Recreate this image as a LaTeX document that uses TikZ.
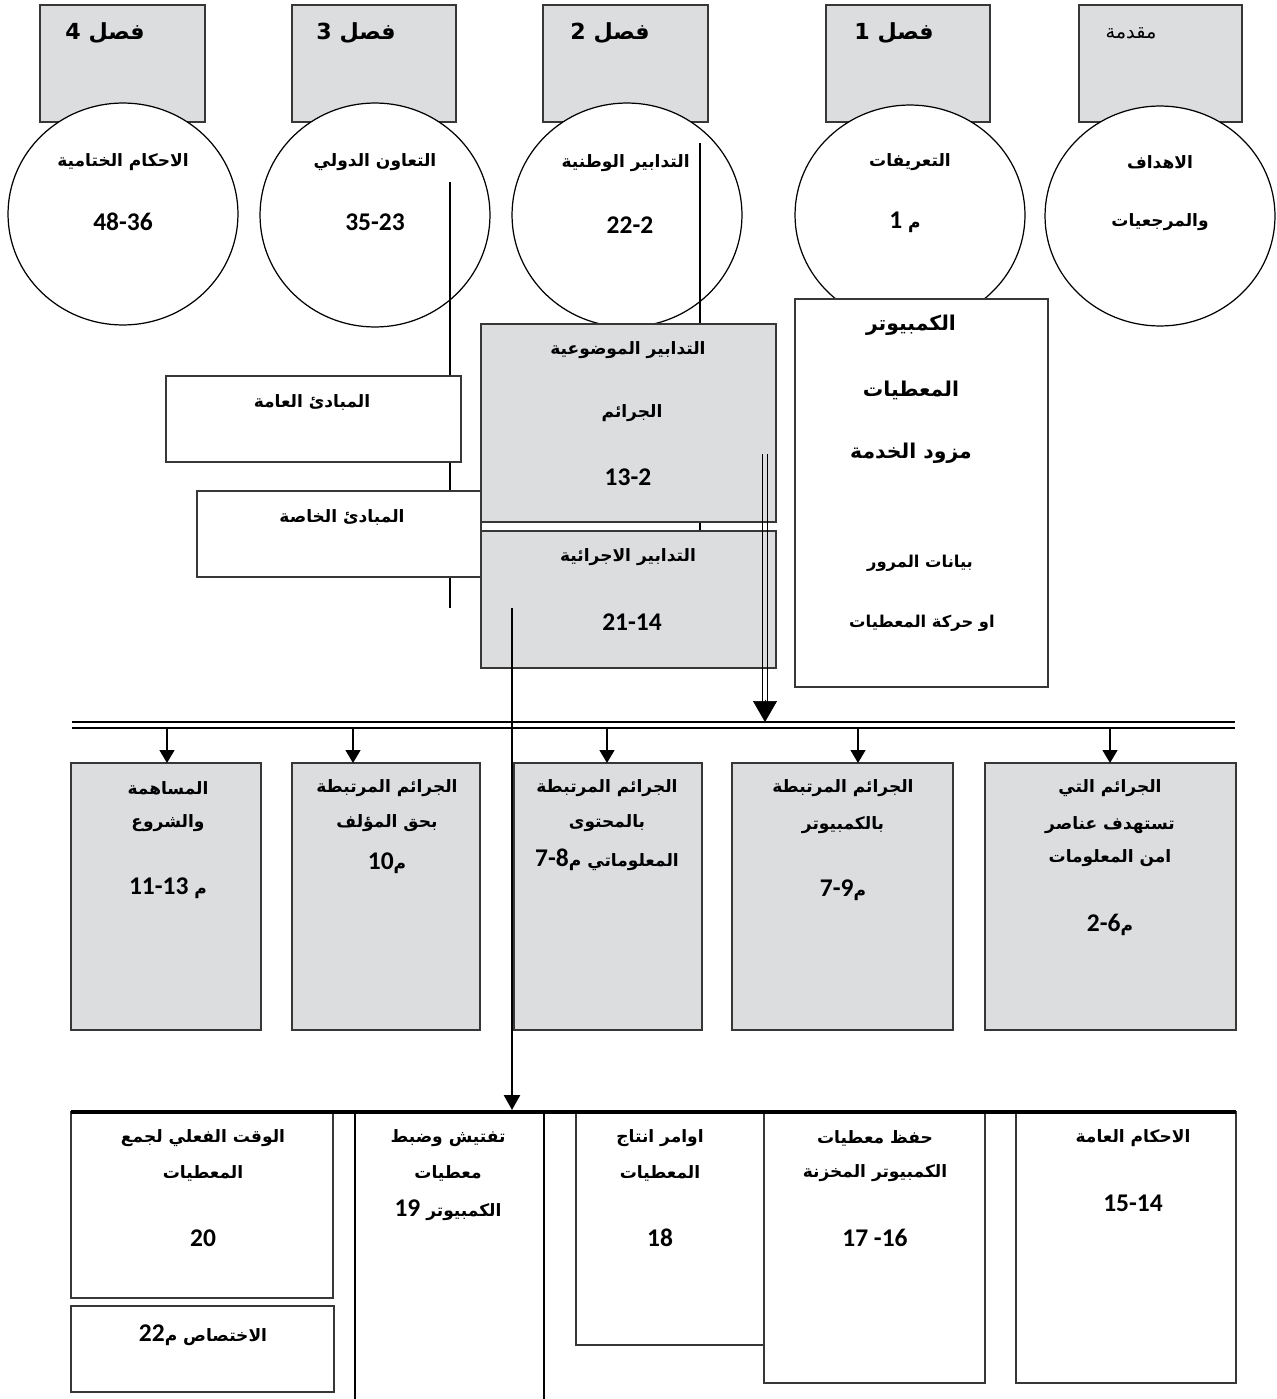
\documentclass[tikz,border=0pt]{standalone}
\usepackage{fontspec}
\setmainfont{DejaVu Sans}
\newfontfamily\arabicfont[Script=Arabic]{DejaVu Sans}
\newfontfamily\numfont{Carlito}
\TeXXeTstate=1
\usetikzlibrary{calc, positioning}
\usetikzlibrary{arrows.meta}

\definecolor{boxgray}{RGB}{220,221,223}
\definecolor{edgegray}{RGB}{55,55,55}

\newcommand{\ar}[1]{{\arabicfont\bfseries\beginR #1\endR}}
\newcommand{\nm}[1]{{\numfont\bfseries\fontsize{14.5}{16}\selectfont #1}}

\begin{document}
\begin{tikzpicture}[x=0.02cm, y=-0.02cm,
  chapbox/.style={draw=edgegray, line width=1.1pt, fill=boxgray},
  ring/.style={draw=black, line width=0.7pt, fill=white},
  graybox/.style={draw=edgegray, line width=1.2pt, fill=boxgray},
  whitebox/.style={draw=edgegray, line width=1.1pt, fill=white},
  plain/.style={draw=black, line width=0.9pt},
  txt/.style={inner sep=0pt, font=\fontsize{9.7}{12}\selectfont},
  bigtxt/.style={inner sep=0pt, font=\fontsize{11.6}{14}\selectfont},
  chaptxt/.style={inner sep=0pt, font=\fontsize{12.6}{15}\selectfont},
  smalltxt/.style={inner sep=0pt, font=\fontsize{9.3}{11}\selectfont},
  numtxt/.style={inner sep=0pt},
  tip/.style={-{Triangle[width=0.3cm,length=0.26cm]}, line width=0.8pt},
]
\useasboundingbox (0,0) rectangle (1276,1399);

% chapter boxes on top
\draw[chapbox] (40,5) rectangle (205,122);
\draw[chapbox] (292,5) rectangle (456,122);
\draw[chapbox] (543,5) rectangle (708,122);
\draw[chapbox] (826,5) rectangle (990,122);
\draw[chapbox] (1079,5) rectangle (1242,122);

\node[chaptxt] (ch4) at (105,33) {\ar{فصل \beginL 4\endL}};
\node[chaptxt] (ch3) at (356,33) {\ar{فصل \beginL 3\endL}};
\node[chaptxt] (ch2) at (610,33) {\ar{فصل \beginL 2\endL}};
\node[chaptxt] (ch1) at (894,33) {\ar{فصل \beginL 1\endL}};
\node[inner sep=0pt, font=\fontsize{11}{13}\selectfont] (intro) at (1131,33) {{\arabicfont\beginR مقدمة\endR}};

% circles
\draw[ring] (123,214) ellipse [x radius=2.3cm, y radius=2.22cm];
\draw[ring] (375,215) ellipse [x radius=2.3cm, y radius=2.24cm];
\draw[ring] (627,215) ellipse [x radius=2.3cm, y radius=2.24cm];
\draw[ring] (910,215) ellipse [x radius=2.3cm, y radius=2.2cm];
\draw[ring] (1160,216) ellipse [x radius=2.3cm, y radius=2.2cm];

\node[txt] (c4a) at (123,162) {\ar{الاحكام الختامية}};
\node[numtxt] (c4b) at (123,222) {\nm{48-36}};
\node[txt] (c3a) at (375,162) {\ar{التعاون الدولي}};
\node[numtxt] (c3b) at (375,222) {\nm{35-23}};
\node[txt, anchor=east] (c2a) at (690,163) {\ar{التدابير الوطنية}};
\node[numtxt] (c2b) at (630,225) {\nm{22-2}};
\node[txt] (c1a) at (910,162) {\ar{التعريفات}};
\node[txt] (c1b) at (905,222) {\ar{م \beginL\nm{1}\endL}};
\node[txt] (c0a) at (1160,162) {\ar{الاهداف}};
\node[txt] (c0b) at (1160,222) {\ar{والمرجعيات}};

% guide lines behind the boxes
\coordinate (coopTop) at (450,182);
\coordinate (coopEnd) at (450,608);
\coordinate (natTop) at (700,143);
\coordinate (natEnd) at (700,531);
\draw[plain] (coopTop) -- (coopEnd);
\draw[plain] (natTop) -- (natEnd);

% principles
\draw[whitebox] (166,376) rectangle (461,462);
\draw[whitebox] (197,491) rectangle (481,577);
\node[txt] (genP) at (312,402) {\ar{المبادئ العامة}};
\node[txt] (spcP) at (342,517) {\ar{المبادئ الخاصة}};

% substantive / procedural
\draw[graybox] (481,324) rectangle (776,522);
\draw[graybox] (481,531) rectangle (776,668);
\node[txt] (subA) at (628,350) {\ar{التدابير الموضوعية}};
\node[txt] (subB) at (632,413) {\ar{الجرائم}};
\node[numtxt] (subC) at (628,477) {\nm{13-2}};
\node[txt] (proA) at (628,557) {\ar{التدابير الاجرائية}};
\node[numtxt] (proB) at (632,622) {\nm{21-14}};

% definitions box
\draw[whitebox] (795,299) rectangle (1048,687);
\node[bigtxt] (defA) at (911,325) {\ar{الكمبيوتر}};
\node[bigtxt] (defB) at (911,390) {\ar{المعطيات}};
\node[bigtxt] (defC) at (911,453) {\ar{مزود الخدمة}};
\node[smalltxt] (defD) at (920,563) {\ar{بيانات المرور}};
\node[smalltxt] (defE) at (922,623) {\ar{او حركة المعطيات}};

% double bus
\coordinate (busL) at (72,722);
\coordinate (busR) at (1235,722);
\draw[line width=1.3pt] (busL) -- (busR);
\draw[line width=1.3pt] ($(busL)+(0,6)$) -- ($(busR)+(0,6)$);

% double arrow into the bus
\coordinate (dblTop) at (765,454);
\coordinate (dblTip) at (765,722);
\draw[line width=0.9pt] ($(dblTop)+(-2.5,0)$) -- ($(dblTip)+(-2.5,-18)$);
\draw[line width=0.9pt] ($(dblTop)+(2.5,0)$) -- ($(dblTip)+(2.5,-18)$);
\draw[-{Triangle[width=0.48cm,length=0.42cm]}] ($(dblTip)+(0,-22)$) -- (dblTip);

% crime boxes
\draw[graybox] (71,763) rectangle (261,1030);
\draw[graybox] (292,763) rectangle (480,1030);
\draw[graybox] (514,763) rectangle (702,1030);
\draw[graybox] (732,763) rectangle (953,1030);
\draw[graybox] (985,763) rectangle (1236,1030);

\foreach \x [count=\i] in {167,353,607,858,1110} {
  \coordinate (drop\i) at (\x,728);
  \coordinate (land\i) at (\x,763);
  \draw[tip] (drop\i) -- (land\i);
}

\node[txt] (aA) at (168,788) {\ar{المساهمة}};
\node[txt] (aB) at (168,823) {\ar{والشروع}};
\node[txt] (aC) at (168,888) {\ar{م \beginL\nm{11-13}\endL}};
\node[txt] (bA) at (387,788) {\ar{الجرائم المرتبطة}};
\node[txt] (bB) at (387,823) {\ar{بحق المؤلف}};
\node[txt] (bC) at (387,863) {\ar{م\beginL\nm{10}\endL}};
\node[txt] (cA) at (607,788) {\ar{الجرائم المرتبطة}};
\node[txt] (cB) at (607,823) {\ar{بالمحتوى}};
\node[txt] (cC) at (607,860) {\ar{المعلوماتي م\beginL\nm{7-8}\endL}};
\node[txt] (dA) at (843,788) {\ar{الجرائم المرتبطة}};
\node[txt] (dB) at (843,825) {\ar{بالكمبيوتر}};
\node[txt] (dC) at (843,890) {\ar{م\beginL\nm{7-9}\endL}};
\node[txt] (eA) at (1110,788) {\ar{الجرائم التي}};
\node[txt] (eB) at (1110,825) {\ar{تستهدف عناصر}};
\node[txt] (eC) at (1110,858) {\ar{امن المعلومات}};
\node[txt] (eD) at (1110,925) {\ar{م\beginL\nm{2-6}\endL}};

% procedural arrow down to the lower rail
\coordinate (procTop) at (512,608);
\coordinate (procTip) at (512,1110);
\draw[line width=1.5pt, -{Triangle[width=0.32cm,length=0.3cm]}] (procTop) -- (procTip);

% lower rail and boxes
\coordinate (railL) at (71,1112);
\coordinate (railR) at (1236,1112);
\draw[whitebox] (71,1112) rectangle (333,1298);
\draw[whitebox] (71,1306) rectangle (334,1392);
\draw[plain] (355,1112) -- (355,1399);
\draw[plain] (544,1112) -- (544,1399);
\draw[whitebox] (576,1112) rectangle (764,1345);
\draw[whitebox] (764,1112) rectangle (985,1383);
\draw[whitebox] (1016,1112) rectangle (1236,1383);
\draw[line width=1.8pt] (railL) -- (railR);

\node[txt] (rtA) at (203,1138) {\ar{الوقت الفعلي لجمع}};
\node[txt] (rtB) at (203,1173) {\ar{المعطيات}};
\node[numtxt] (rtC) at (203,1238) {\nm{20}};
\node[txt] (jur) at (203,1335) {\ar{الاختصاص م\beginL\nm{22}\endL}};
\node[txt] (srA) at (448,1138) {\ar{تفتيش وضبط}};
\node[txt] (srB) at (448,1173) {\ar{معطيات}};
\node[txt] (srC) at (448,1210) {\ar{الكمبيوتر \beginL\nm{19}\endL}};
\node[txt] (prA) at (660,1138) {\ar{اوامر انتاج}};
\node[txt] (prB) at (660,1173) {\ar{المعطيات}};
\node[numtxt] (prC) at (660,1238) {\nm{18}};
\node[txt] (kpA) at (875,1138) {\ar{حفظ معطيات}};
\node[txt] (kpB) at (875,1173) {\ar{الكمبيوتر المخزنة}};
\node[numtxt] (kpC) at (875,1238) {\nm{17 -16}};
\node[txt] (gnA) at (1133,1138) {\ar{الاحكام العامة}};
\node[numtxt] (gnB) at (1133,1203) {\nm{15-14}};
\end{tikzpicture}
\end{document}
